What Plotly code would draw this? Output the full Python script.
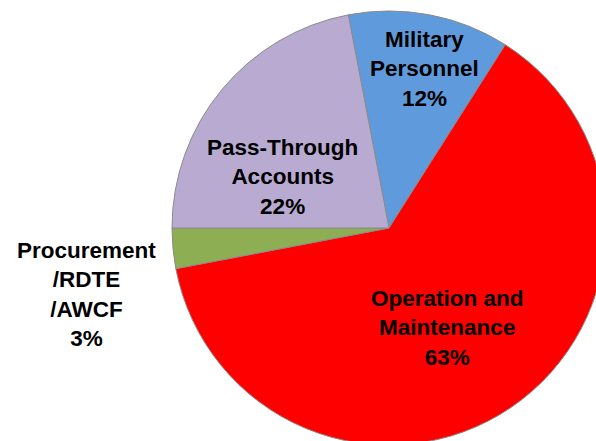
import plotly.graph_objects as go

labels = ["Military<br>Personnel", "Operation and<br>Maintenance", "Procurement<br>/RDTE<br>/AWCF", "Pass-Through<br>Accounts"]
values = [12, 63, 3, 22]
colors = ["#5F9BDC", "#FF0000", "#8DAE52", "#B9AAD2"]

W, H = 612, 452
cx, cy, r = 389, 228, 217

fig = go.Figure(go.Pie(
    labels=labels,
    values=values,
    sort=False,
    direction="clockwise",
    rotation=-10.8,
    textinfo="none",
    hoverinfo="label+percent",
    marker=dict(colors=colors, line=dict(color="#8a8a8a", width=1)),
    domain=dict(x=[(cx - r) / W, (cx + r) / W], y=[(H - cy - r) / H, (H - cy + r) / H]),
    showlegend=False,
))

# label positions (pixels, top-left origin)
label_pos = [(424, 69), (447, 328), (86, 294), (282, 177)]
font = dict(family="Liberation Sans, Arial, sans-serif", size=22.5, color="black", weight="bold")
total = sum(values)
for lab, v, (px, py) in zip(labels, values, label_pos):
    fig.add_annotation(
        x=px / W, y=1 - py / H, xref="paper", yref="paper",
        text=f"{lab}<br>{round(100 * v / total)}%",
        showarrow=False, font=font, align="center",
        xanchor="center", yanchor="middle",
    )

fig.update_layout(
    width=W, height=H, autosize=False,
    margin=dict(l=0, r=0, t=0, b=0),
    paper_bgcolor="white", plot_bgcolor="white",
)

fig.write_html("out.html", post_script="document.documentElement.style.overflow='hidden';document.body.style.overflow='hidden';document.body.style.margin='0';")
